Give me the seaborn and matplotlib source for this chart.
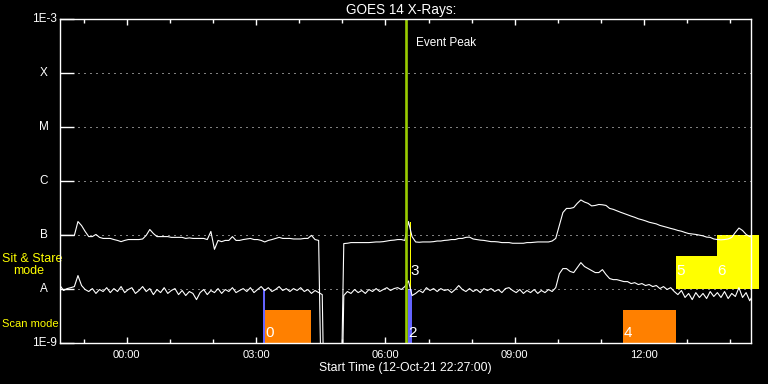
import numpy as np
import pandas as pd
import matplotlib
matplotlib.use("Agg")
import matplotlib.pyplot as plt
import matplotlib.transforms as mtransforms
from matplotlib.ticker import NullLocator
import seaborn as sns

# ---------------- data ----------------
title = "GOES 14 X-Rays:"
xlabel = "Start Time (12-Oct-21 22:27:00)"
start_hour = 22 + 27 / 60          # 22:27 on 12-Oct-21
cadence_min = 5                    # sample spacing of the curves
x_end_h = 16.03                    # plotted span (hours after start)

# 1-8 A channel (units of 1e-8 W/m^2), one value per 5 min; 0.001 = data gap
long_flux_1e8 = [
    9.8, 9.8, 9.8, 9.8, 9.8, 17.7, 14.9, 11.6, 9.3, 9.3,
    10.2, 9.0, 8.6, 8.6, 8.6, 8.2, 7.9, 7.5, 7.9, 8.2,
    8.2, 8.2, 8.2, 8.4, 9.8, 12.6, 10.6, 9.3, 9.3, 9.3,
    9.3, 9.0, 9.0, 9.0, 9.0, 8.6, 8.8, 8.6, 8.6, 8.6,
    8.6, 8.2, 11.6, 5.4, 7.9, 7.5, 7.9, 7.9, 9.3, 7.9,
    7.9, 8.2, 8.4, 8.6, 8.2, 8.2, 7.9, 7.4, 7.9, 8.2,
    8.6, 9.0, 8.6, 8.6, 8.6, 8.4, 8.4, 8.4, 8.6, 8.6,
    9.8, 8.2, 7.9, 0.001, 0.001, 0.001, 0.001, 0.001, 0.001, 6.9,
    7.0, 7.2, 7.2, 7.2, 7.2, 7.2, 7.2, 7.3, 7.4, 7.4,
    7.5, 7.7, 7.9, 8.0, 8.2, 8.2, 7.9, 17.7, 9.3, 7.4,
    7.3, 7.4, 7.4, 7.4, 7.5, 7.7, 7.7, 7.9, 8.0, 8.2,
    8.2, 8.6, 8.6, 9.0, 9.1, 8.4, 8.2, 8.0, 7.9, 7.7,
    7.5, 7.5, 7.4, 7.2, 7.2, 7.2, 7.0, 7.0, 7.0, 7.0,
    7.2, 7.2, 7.3, 7.4, 7.4, 7.4, 7.4, 7.7, 8.6, 15.0,
    26.0, 31.0, 31.0, 32.2, 38.5, 44.5, 40.7, 38.5, 34.5, 35.2,
    36.7, 36.2, 35.2, 31.0, 29.8, 28.0, 26.4, 25.0, 23.6, 22.3,
    21.2, 19.9, 19.1, 18.2, 17.2, 16.6, 16.0, 15.0, 14.4, 13.8,
    13.2, 12.7, 12.1, 11.7, 11.1, 10.6, 10.4, 10.2, 9.9, 9.6,
    9.1, 9.0, 8.4, 8.2, 8.1, 8.2, 8.4, 9.0, 11.1, 13.4,
    12.1, 10.2, 9.3, 9.1,
]

# 0.5-4 A channel (units of 1e-9 W/m^2); 0.001 = data gap
short_flux_1e9 = [
    11.5, 9.3, 10.1, 10.5, 11.0, 17.6, 11.5, 9.7, 8.9, 10.1,
    8.2, 9.7, 8.9, 10.5, 8.5, 10.1, 8.9, 11.0, 8.5, 9.7,
    10.5, 8.2, 9.3, 11.0, 8.9, 10.1, 7.8, 9.7, 8.5, 10.5,
    8.2, 9.3, 10.1, 7.8, 9.3, 7.5, 8.9, 8.2, 6.3, 8.5,
    9.7, 7.8, 9.3, 8.5, 10.1, 8.2, 9.7, 8.9, 10.5, 8.5,
    9.3, 10.1, 8.9, 10.5, 8.5, 9.7, 11.0, 9.3, 10.5, 8.9,
    9.7, 11.0, 9.3, 10.1, 8.9, 10.1, 9.3, 10.5, 8.9, 9.7,
    8.2, 9.3, 8.5, 7.8, 0.001, 0.001, 0.001, 0.001, 0.001, 7.5,
    8.9, 8.2, 9.7, 8.5, 9.3, 8.2, 9.7, 8.9, 10.1, 8.9,
    9.7, 10.5, 9.3, 10.1, 10.5, 9.7, 11.0, 14.0, 7.5, 8.2,
    9.3, 8.5, 10.5, 9.3, 10.1, 8.9, 10.1, 9.3, 9.7, 8.5,
    9.7, 11.5, 9.7, 8.9, 10.1, 8.9, 9.7, 8.5, 10.1, 9.3,
    10.1, 8.9, 9.7, 8.5, 10.1, 10.5, 9.3, 8.5, 9.7, 8.2,
    9.3, 8.5, 9.7, 8.2, 9.3, 8.5, 9.7, 8.9, 10.5, 19.0,
    23.7, 23.7, 21.0, 20.0, 24.8, 30.6, 25.9, 23.7, 21.8, 20.0,
    20.0, 22.7, 18.4, 15.5, 14.8, 14.8, 14.2, 13.6, 13.6, 12.5,
    13.0, 12.0, 12.5, 11.5, 12.0, 11.0, 11.5, 10.1, 11.0, 9.7,
    10.5, 8.9, 7.8, 9.3, 6.9, 8.2, 6.3, 8.5, 6.9, 8.2,
    6.6, 8.9, 7.2, 8.5, 6.9, 8.9, 6.6, 8.2, 7.2, 10.5,
    6.9, 8.5, 6.0, 7.8,
]

# flux levels on the left axis
level_names = ["1E-9", "A", "B", "C", "M", "X", "1E-3"]
level_values = [1e-9, 1e-8, 1e-7, 1e-6, 1e-5, 1e-4, 1e-3]

# time axis labels (every 3 h)
time_labels = ["00:00", "03:00", "06:00", "09:00", "12:00"]

# event peak (hours after start)
event_peak_h = 8.037
event_label = "Event Peak"

# observation boxes (hours after start, flux range)
obs_label = ["", "0", "2", "3", "4", "5", "6"]
obs_start_h = [4.703, 4.756, 8.081, 8.114, 13.063, 14.285, 15.244]
obs_end_h = [4.764, 5.817, 8.160, 8.137, 14.285, 15.244, 16.21]
obs_low = [1e-9, 1e-9, 1e-9, 1e-8, 1e-9, 1e-8, 1e-8]
obs_high = [1e-8, 4.05e-9, 1e-8, 1.73e-7, 4.05e-9, 4.06e-8, 1e-7]
obs_mode = ["scan", "scan", "scan", "sit", "scan", "sit", "sit"]
obs_color = ["#6464ff", "#ff8000", "#6464ff", "#ffff00", "#ff8000", "#ffff00", "#ffff00"]
mode_label_flux = {"scan": 1.5e-9, "sit": 2.1e-8}

# ---------------- style ----------------
sns.set_style("dark", {
    "axes.facecolor": "black", "figure.facecolor": "black",
    "axes.edgecolor": "white", "text.color": "white",
    "axes.labelcolor": "white", "xtick.color": "white", "ytick.color": "white",
    "axes.grid": False,
})
plt.rcParams["font.family"] = ["Liberation Sans", "DejaVu Sans"]

fig = plt.figure(figsize=(7.68, 3.84), dpi=100)
ax = fig.add_axes([60 / 768, 1 - 342.7 / 384, 691 / 768, 323.4 / 384])

# ---------------- curves ----------------
n = len(long_flux_1e8)
t_h = np.arange(n) * cadence_min / 60.0
df = pd.concat([
    pd.DataFrame({"t": t_h, "flux": np.array(long_flux_1e8) * 1e-8, "channel": "long"}),
    pd.DataFrame({"t": t_h, "flux": np.array(short_flux_1e9) * 1e-9, "channel": "short"}),
])

ax.set_yscale("log")

# observation boxes
bars = ax.bar(obs_start_h, np.array(obs_high) - np.array(obs_low), bottom=obs_low,
              width=np.array(obs_end_h) - np.array(obs_start_h), align="edge",
              color=obs_color, linewidth=0, zorder=2)
for b in bars:
    b.set_clip_on(False)

sns.lineplot(data=df, x="t", y="flux", hue="channel",
             palette={"long": "white", "short": "white"},
             estimator=None, sort=False, legend=False, linewidth=0.8, ax=ax, zorder=4)

# dotted level lines
for v in level_values[1:-1]:
    ax.axhline(v, color="white", lw=0.72, linestyle=(0, (1, 5)), zorder=3)

# event peak
ax.axvline(event_peak_h, color="#99cc00", lw=1.9, zorder=5)
ax.text(8.26, 3.6e-4, event_label, color="white", fontsize=8.5, va="center", ha="left")

# observation labels
for lab, s, m in zip(obs_label, obs_start_h, obs_mode):
    if lab:
        ax.text(s + 0.005, mode_label_flux[m], lab, color="white", fontsize=11,
                va="center", ha="left", zorder=6, clip_on=False)

ax.set_xlim(0, x_end_h)
ax.set_ylim(level_values[0], level_values[-1])

# ---------------- axes / ticks ----------------
def hours_after_start(lbl):
    h = int(lbl[:2]) + int(lbl[3:]) / 60
    return (h - start_hour) % 24

major_pos = [hours_after_start(l) for l in time_labels]
first_hour = (np.ceil(start_hour) - start_hour)
minor_pos = [first_hour + i for i in range(int(x_end_h)) if first_hour + i < x_end_h]
ax.set_xticks(major_pos)
ax.set_xticklabels(time_labels)
ax.set_xticks(minor_pos, minor=True)
ax.tick_params(axis="x", which="major", direction="in", length=4.6, width=1,
               top=True, bottom=True, labelsize=8, pad=5, colors="white")
ax.tick_params(axis="x", which="minor", direction="in", length=2.6, width=1,
               top=True, bottom=True, colors="white")

ax.set_yticks(level_values)
ax.yaxis.set_minor_locator(NullLocator())
ax.tick_params(axis="y", which="major", direction="in", length=10, width=1,
               left=True, right=False, labelleft=False, colors="white")

blend = mtransforms.blended_transform_factory(ax.transAxes, ax.transData)
for name, v in zip(level_names, level_values):
    if name.startswith("1E"):
        ax.text(-0.005, v, name, transform=blend, ha="right", va="center",
                fontsize=8.5, color="white")
    else:
        ax.text(-0.0232, v, name, transform=blend, ha="center", va="center",
                fontsize=8.5, color="white")

for sp in ax.spines.values():
    sp.set_color("white")
    sp.set_linewidth(1.0)
    sp.set_zorder(10)
    sp.set_visible(True)

ax.set_xlabel(xlabel, fontsize=8.8, color="white", va="center")
ax.xaxis.set_label_coords(0.5, -0.079)
ax.set_ylabel("")
ax.text(0.4935, 1.03, title, transform=ax.transAxes, ha="center", va="center",
        fontsize=9.8, color="white")

# mode labels on the left
fblend = mtransforms.blended_transform_factory(fig.transFigure, ax.transData)
ax.text(2 / 768, 3.57e-8, "Sit & Stare", transform=fblend, color="#ffff00",
        fontsize=9, ha="left", va="center", clip_on=False)
ax.text(12.7 / 768, 2.14e-8, "mode", transform=fblend, color="#ffff00",
        fontsize=9, ha="left", va="center", clip_on=False)
ax.text(2 / 768, 2.22e-9, "Scan mode", transform=fblend, color="#ffff00",
        fontsize=8, ha="left", va="center", clip_on=False)

fig.savefig("out.png", dpi=100, facecolor="black")
